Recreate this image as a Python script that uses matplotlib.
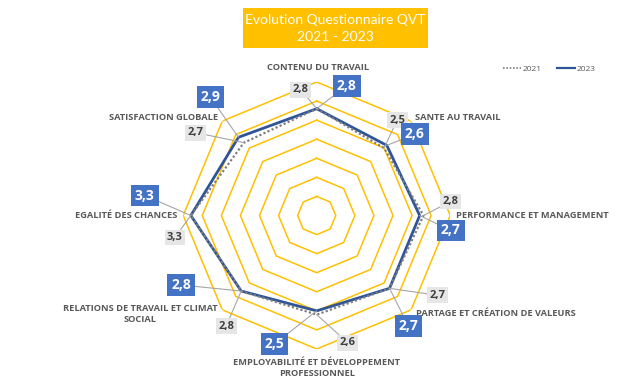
import numpy as np
import matplotlib.pyplot as plt
from matplotlib.patches import Rectangle
from matplotlib.lines import Line2D

plt.rcParams['font.family'] = ['Open Sans', 'DejaVu Sans']

categories = [
    "CONTENU DU TRAVAIL",
    "SANTE AU TRAVAIL",
    "PERFORMANCE ET MANAGEMENT",
    "PARTAGE ET CRÉATION DE VALEURS",
    "EMPLOYABILITÉ ET DÉVELOPPEMENT\nPROFESSIONNEL",
    "RELATIONS DE TRAVAIL ET CLIMAT\nSOCIAL",
    "EGALITÉ DES CHANCES",
    "SATISFACTION GLOBALE",
]
values_2021 = [2.8, 2.5, 2.8, 2.7, 2.6, 2.8, 3.3, 2.7]
values_2023 = [2.8, 2.6, 2.7, 2.7, 2.5, 2.8, 3.3, 2.9]
ring_levels = [0.5, 1.0, 1.5, 2.0, 2.5, 3.0, 3.5]

# layout: label offsets in pixels (dx, dy up) from each point
cat_offsets = [(1, 14, 'center'), (4, 4, 'left'), (6, 0, 'left'), (5, -4, 'left'),
               (0, -19, 'center'), (-5, -4, 'right'), (-6, 0, 'right'), (-4, 4, 'right')]
off_2023 = [(30, 23), (28, 11), (31, -15), (19, -38), (-42, -33), (-60, 6), (-46, 20), (-28, 40)]
off_2021 = [(-16, 19), (13, 28), (27, 14), (48, -7), (31, -28), (-15, -35), (-16, -22), (-48, 10)]

W, H = 634, 387
fig = plt.figure(figsize=(W / 100, H / 100), dpi=100)
cx, cy, R = 316.7, 215.5, 133.5
ax = fig.add_axes([(cx - R) / W, (H - cy - R) / H, 2 * R / W, 2 * R / H], projection='polar')
ax.set_theta_zero_location('N')
ax.set_theta_direction(-1)
ax.set_ylim(0, 3.5)
ax.grid(False)
ax.spines['polar'].set_visible(False)
ax.set_xticks([])
ax.set_yticks([])
ax.patch.set_alpha(0)

n = len(categories)
theta = np.linspace(0, 2 * np.pi, n, endpoint=False)
theta_c = np.append(theta, theta[0])

for lvl in ring_levels:
    ax.plot(theta_c, [lvl] * (n + 1), color='#FFC000', lw=1.1, zorder=1)

ax.plot(theta_c, values_2021 + values_2021[:1], color='#7F7F7F', lw=1.6,
        linestyle=(0, (1, 1)), zorder=3)
ax.plot(theta_c, values_2023 + values_2023[:1], color='#2F5597', lw=2, zorder=2)

for t, lab, (dx, dy, ha) in zip(theta, categories, cat_offsets):
    ax.annotate(lab, xy=(t, 3.5), xytext=(dx, dy), textcoords='offset pixels',
                ha=ha, va='center', multialignment='center', fontsize=6.7,
                fontweight='bold', color='#595959', zorder=5, linespacing=1.2)

for t, v, (dx, dy) in zip(theta, values_2021, off_2021):
    ax.annotate(f"{v:.1f}".replace('.', ','), xy=(t, v), xytext=(dx, dy),
                textcoords='offset pixels', ha='center', va='center',
                fontsize=8, fontweight='bold', color='#404040', zorder=6,
                bbox=dict(boxstyle='square,pad=0.22', fc='#E7E6E6', ec='none'),
                arrowprops=dict(arrowstyle='-', color='#A6A6A6', lw=0.8,
                                shrinkA=0, shrinkB=0))

for t, v, (dx, dy) in zip(theta, values_2023, off_2023):
    ax.annotate(f"{v:.1f}".replace('.', ','), xy=(t, v), xytext=(dx, dy),
                textcoords='offset pixels', ha='center', va='center',
                fontsize=10, fontweight='bold', color='white', zorder=7,
                bbox=dict(boxstyle='square,pad=0.28', fc='#4472C4', ec='none'),
                arrowprops=dict(arrowstyle='-', color='#A6A6A6', lw=0.8,
                                shrinkA=0, shrinkB=0))

# title box
fig.patches.append(Rectangle((243 / W, 1 - 48 / H), 185 / W, 40 / H,
                             transform=fig.transFigure, fc='#FFC000', ec='none'))
fig.text(335.5 / W, 1 - 28.5 / H, "Evolution Questionnaire QVT\n2021 - 2023",
         ha='center', va='center', color='white', fontsize=10,
         linespacing=1.45, family=['Lato', 'DejaVu Sans'])

handles = [Line2D([], [], color='#7F7F7F', lw=1.2, linestyle=(0, (1, 1))),
           Line2D([], [], color='#2F5597', lw=1.6)]
fig.legend(handles, ['2021', '2023'], loc='center', bbox_to_anchor=(549 / W, 1 - 69 / H),
           ncol=2, fontsize=6, frameon=False, handlelength=2.2, handletextpad=0.2,
           columnspacing=1.8, labelcolor='#595959')

fig.savefig('out.png', dpi=100)
